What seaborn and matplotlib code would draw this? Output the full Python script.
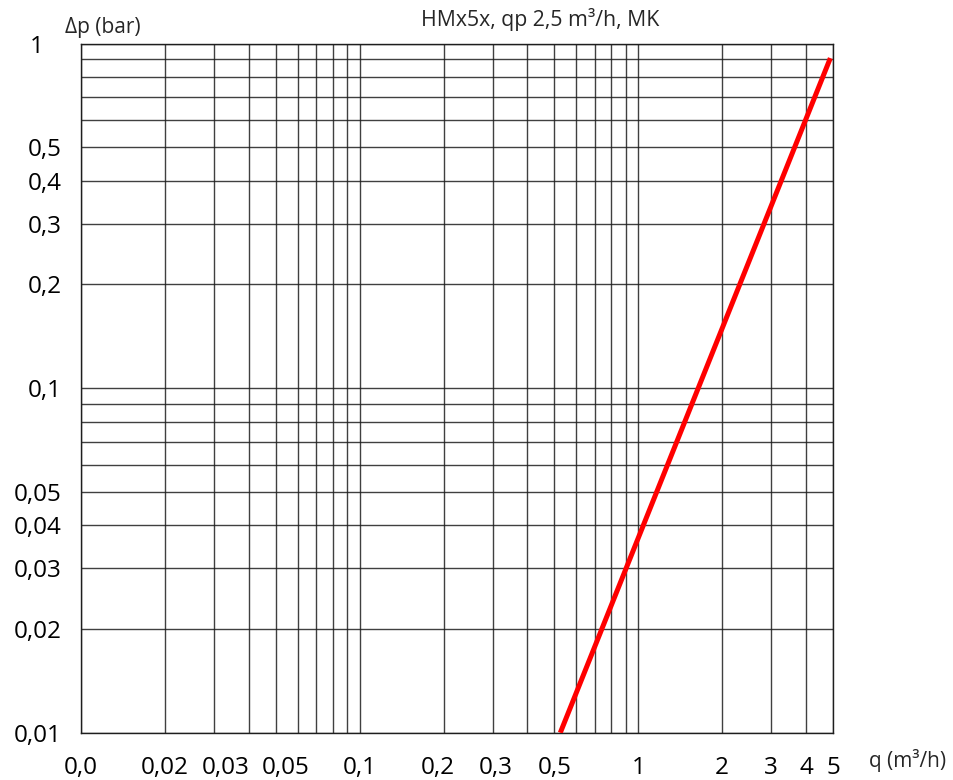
import numpy as np
import pandas as pd
import seaborn as sns
import matplotlib
matplotlib.use("Agg")
from matplotlib import pyplot as plt
from matplotlib.ticker import FixedLocator, NullFormatter
from matplotlib.transforms import ScaledTranslation

# pressure loss curve
flow = [0.525, 4.89]
dp = [0.01, 0.908]

x_ticks = [0.01, 0.02, 0.03, 0.05, 0.1, 0.2, 0.3, 0.5, 1, 2, 3, 4, 5]
x_labels = ["0,0", "0,02", "0,03", "0,05", "0,1", "0,2", "0,3", "0,5", "1", "2", "3", "4", "5"]
x_grid = [0.04, 0.06, 0.07, 0.08, 0.09, 0.4, 0.6, 0.7, 0.8, 0.9]

y_ticks = [0.01, 0.02, 0.03, 0.04, 0.05, 0.1, 0.2, 0.3, 0.4, 0.5, 1]
y_labels = ["0,01", "0,02", "0,03", "0,04", "0,05", "0,1", "0,2", "0,3", "0,4", "0,5", "1"]
y_grid = [0.06, 0.07, 0.08, 0.09, 0.6, 0.7, 0.8, 0.9]

sns.set_style("white")
plt.rcParams["font.family"] = ["Open Sans", "DejaVu Sans"]

df = pd.DataFrame({"q": flow, "dp": dp})

fig = plt.figure(figsize=(9.54, 7.8), dpi=100)
ax = fig.add_axes([0.0849, 0.0606, 0.7883, 0.8834])

sns.lineplot(data=df, x="q", y="dp", color="#ff0000", linewidth=3.6, ax=ax,
             solid_capstyle="butt", zorder=5)

ax.set_xscale("log")
ax.set_yscale("log")
ax.set_xlim(0.01, 5)
ax.set_ylim(0.01, 1)

ax.xaxis.set_major_locator(FixedLocator(x_ticks))
ax.set_xticklabels(x_labels)
ax.xaxis.set_minor_locator(FixedLocator(x_grid))
ax.xaxis.set_minor_formatter(NullFormatter())
ax.yaxis.set_major_locator(FixedLocator(y_ticks))
ax.set_yticklabels(y_labels)
ax.yaxis.set_minor_locator(FixedLocator(y_grid))
ax.yaxis.set_minor_formatter(NullFormatter())

ax.grid(True, which="both", color="#1e1e1e", linewidth=1.0, alpha=0.85)
ax.tick_params(axis="both", which="both", length=0, labelsize=17.5, colors="black")
ax.tick_params(axis="x", pad=17)
ax.tick_params(axis="y", pad=14)
for side in ax.spines.values():
    side.set_color("#1e1e1e")
    side.set_linewidth(1.0)
ax.set_xlabel("")
ax.set_ylabel("")

# the original nudges a few labels off their gridline (pixels)
x_nudge = {"0,03": 12, "0,05": 10, "0,2": -6, "0,3": 3}
for tick in ax.xaxis.get_major_ticks():
    txt = tick.label1.get_text()
    if txt in x_nudge:
        tick.label1.set_transform(tick.label1.get_transform()
                                  + ScaledTranslation(x_nudge[txt] / 100, 0, fig.dpi_scale_trans))
for tick in ax.yaxis.get_major_ticks():
    if tick.label1.get_text() == "1":
        tick.label1.set_transform(tick.label1.get_transform()
                                  + ScaledTranslation(-0.18, 0, fig.dpi_scale_trans))

fig.text(0.566, 0.967, "HMx5x, qp 2,5 m³/h, MK", ha="center", va="baseline", fontsize=15.3)
fig.text(0.068, 0.958, "Δp (bar)", ha="left", va="baseline", fontsize=15)
fig.text(0.911, 0.0167, "q (m³/h)", ha="left", va="baseline", fontsize=15)

fig.savefig("out.png", dpi=100)
